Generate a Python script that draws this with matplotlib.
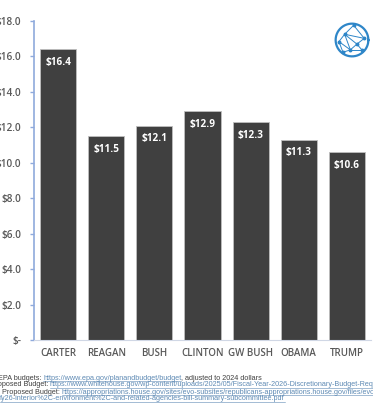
import matplotlib
matplotlib.use("Agg")
import matplotlib.pyplot as plt
from matplotlib.lines import Line2D
import numpy as np

presidents = ["CARTER", "REAGAN", "BUSH", "CLINTON", "GW BUSH", "OBAMA", "TRUMP"]
budgets = [16.4, 11.5, 12.1, 12.9, 12.3, 11.3, 10.6]
yticks = [0, 2, 4, 6, 8, 10, 12, 14, 16, 18]
ytick_labels = ["$-", "$2.0", "$4.0", "$6.0", "$8.0", "$10.0", "$12.0", "$14.0", "$16.0", "$18.0"]

notes = [
    ("EPA budgets: ", "https://www.epa.gov/planandbudget/budget", ", adjusted to 2024 dollars", 43),
    ("FY26 Proposed Budget: ", "https://www.whitehouse.gov/wp-content/uploads/2025/05/Fiscal-Year-2026-Discretionary-Budget-Request.pdf", "", 50),
    ("GOP Proposed Budget: ", "https://appropriations.house.gov/sites/evo-subsites/republicans-appropriations.house.gov/files/evo-media-document/", "", 62),
    ("", "fy26-interior%2C-environment%2C-and-related-agencies-bill-summary-subcommittee.pdf", "", 0),
]

W, H = 373, 420
PT = 72 / 100  # points per pixel
fig = plt.figure(figsize=(W / 100, H / 100), dpi=100)
fig.patch.set_facecolor("white")

ax = fig.add_axes([34 / W, 80 / H, 337 / W, 319 / H])
x = np.arange(len(presidents))
ax.bar(x, budgets, width=0.75, color="#404040", edgecolor="#BFBFBF", linewidth=0.6, zorder=2)
for xi, v in zip(x, budgets):
    ax.annotate(f"${v:.1f}", (xi, v), xytext=(0, -13), textcoords="offset pixels",
                ha="center", va="center", color="white", fontsize=7.2,
                fontweight="bold", family="Open Sans")

ax.set_xlim(-0.5, len(presidents) - 0.5)
ax.set_ylim(0, 18)
ax.set_yticks(yticks)
ax.set_yticklabels(ytick_labels)
ax.set_xticks(x)
ax.set_xticklabels(presidents)
for s in ["top", "right"]:
    ax.spines[s].set_visible(False)
ax.spines["left"].set_color("#8FAADC")
ax.spines["left"].set_linewidth(1.2)
ax.spines["bottom"].set_color("#D0D7E5")
ax.spines["bottom"].set_linewidth(0.8)
ax.tick_params(axis="y", direction="out", length=4 * PT, width=1, color="#8FAADC",
               pad=9 * PT, labelsize=7.2, labelcolor="#595959")
ax.tick_params(axis="x", length=0, pad=8 * PT, labelsize=7, labelcolor="#595959")
for lab in ax.get_yticklabels() + ax.get_xticklabels():
    lab.set_family("Open Sans")
    lab.set_fontweight("semibold")

# footnotes
fig.canvas.draw()
r = fig.canvas.get_renderer()
ys = [378, 385, 392, 399]
fs = 5.2
for (pre, link, post, lx), yp in zip(notes, ys):
    yf = 1 - yp / H
    if pre:
        fig.text(lx / W, yf, pre, ha="right", va="center", fontsize=fs,
                 color="#404040", family="Liberation Sans")
    t = fig.text(lx / W, yf, link, ha="left", va="center", fontsize=fs,
                 color="#5E8AB4", family="Liberation Sans")
    bb = t.get_window_extent(r)
    fig.add_artist(Line2D([bb.x0 / W, bb.x1 / W], [(bb.y0 + 0.3) / H] * 2,
                          color="#5E8AB4", lw=0.4, transform=fig.transFigure))
    if post:
        fig.text(bb.x1 / W, yf, post, ha="left", va="center", fontsize=fs,
                 color="#404040", family="Liberation Sans")

# logo (decorative)
lax = fig.add_axes([334 / W, 1 - 58 / H, 36 / W, 36 / H])
lax.set_xlim(-1.1, 1.1)
lax.set_ylim(-1.1, 1.1)
lax.axis("off")
lc = "#2E86C8"
th = np.linspace(0, 2 * np.pi, 200)
lax.plot(np.cos(th), np.sin(th), color=lc, lw=1.6)
nodes = {"a": (-0.45, 0.35), "b": (0.3, -0.25), "c": (-0.1, -0.6), "d": (-0.8, -0.1),
         "e": (0.75, 0.1), "f": (0.1, 0.9), "g": (-0.55, -0.75), "h": (0.6, -0.6)}
edges = [("a", "b"), ("a", "f"), ("a", "d"), ("a", "e"), ("b", "c"), ("b", "e"), ("b", "h"),
         ("c", "g"), ("c", "d"), ("d", "g"), ("a", "c"), ("f", "e"), ("c", "h")]
for p, q in edges:
    lax.plot([nodes[p][0], nodes[q][0]], [nodes[p][1], nodes[q][1]], color=lc, lw=0.7)
for v in nodes.values():
    lax.plot(*v, "o", color=lc, ms=1.8)

fig.savefig("out.png", dpi=100, facecolor="white")
